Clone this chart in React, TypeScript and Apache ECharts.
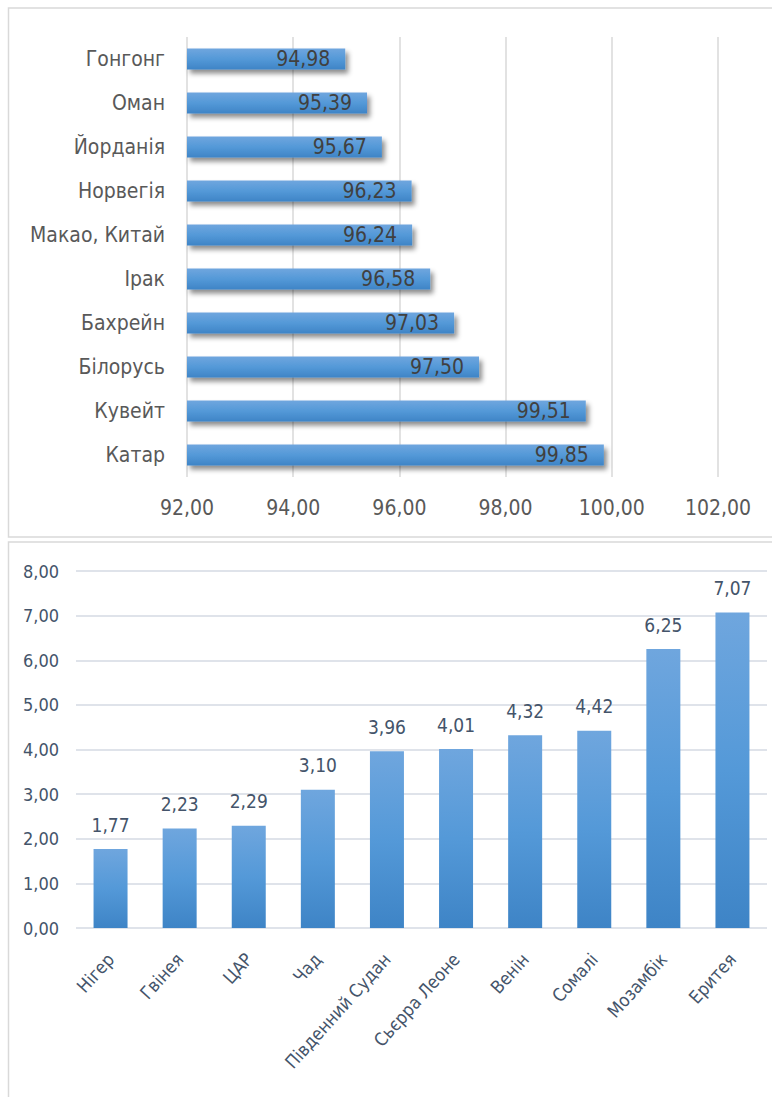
import React, { useEffect, useRef } from "react";
import * as echarts from "echarts";

const topCategories = ["Гонгонг", "Оман", "Йорданія", "Норвегія", "Макао, Китай", "Ірак", "Бахрейн", "Білорусь", "Кувейт", "Катар"];
const topValues = [94.98, 95.39, 95.67, 96.23, 96.24, 96.58, 97.03, 97.5, 99.51, 99.85];

const bottomCategories = ["Нігер", "Гвінея", "ЦАР", "Чад", "Південний Судан", "Сьєрра Леоне", "Венін", "Сомалі", "Мозамбік", "Еритея"];
const bottomValues = [1.77, 2.23, 2.29, 3.1, 3.96, 4.01, 4.32, 4.42, 6.25, 7.07];

const FONT = "'Liberation Sans Narrow', 'DejaVu Sans Condensed', 'Liberation Sans', sans-serif";
const fmt = (v: number) => v.toFixed(2).replace(".", ",");

export default function App() {
  const ref = useRef<HTMLDivElement>(null);
  useEffect(() => {
    const chart = echarts.init(ref.current!, null, { renderer: "svg" });
    const grad = () =>
      new echarts.graphic.LinearGradient(0, 0, 0, 1, [
        { offset: 0, color: "#6fa6de" },
        { offset: 0.5, color: "#5499d8" },
        { offset: 1, color: "#3e84c6" },
      ]);
    chart.setOption({
      animation: false,
      backgroundColor: "#ffffff",
      textStyle: { fontFamily: FONT },
      graphic: [
        { type: "rect", shape: { x: 8.5, y: 8, width: 800, height: 529 }, style: { fill: "none", stroke: "#d9d9d9", lineWidth: 1.5 }, silent: true },
        { type: "rect", shape: { x: 8.5, y: 542, width: 800, height: 600 }, style: { fill: "none", stroke: "#d9d9d9", lineWidth: 1.5 }, silent: true },
      ],
      grid: [
        { left: 187, top: 37, width: 531, height: 440 },
        { left: 76, top: 571, width: 691, height: 357 },
      ],
      xAxis: [
        {
          gridIndex: 0,
          type: "value",
          min: 92,
          max: 102,
          interval: 2,
          axisLine: { show: false },
          axisTick: { show: false },
          splitLine: { lineStyle: { color: "#d9d9d9", width: 1.5 } },
          axisLabel: { formatter: (v: number) => fmt(v), color: "#595959", fontSize: 21, margin: 20, fontFamily: FONT },
        },
        {
          gridIndex: 1,
          type: "category",
          data: bottomCategories,
          axisLine: { show: false },
          axisTick: { show: false },
          axisLabel: { rotate: 48, color: "#44546a", fontSize: 18, margin: 28, interval: 0, fontFamily: FONT },
        },
      ],
      yAxis: [
        {
          gridIndex: 0,
          type: "category",
          data: topCategories,
          inverse: true,
          axisLine: { show: false },
          axisTick: { show: false },
          axisLabel: { color: "#595959", fontSize: 21, margin: 22, fontFamily: FONT },
        },
        {
          gridIndex: 1,
          type: "value",
          min: 0,
          max: 8,
          interval: 1,
          axisLine: { show: false },
          axisTick: { show: false },
          splitLine: { lineStyle: { color: "#dfe3ea", width: 2 } },
          axisLabel: { formatter: (v: number) => fmt(v), color: "#44546a", fontSize: 18, margin: 17, fontFamily: FONT },
        },
      ],
      series: [
        {
          type: "bar",
          xAxisIndex: 0,
          yAxisIndex: 0,
          data: topValues,
          barWidth: 21,
          itemStyle: {
            color: grad(),
            shadowColor: "rgba(0,0,0,0.45)",
            shadowBlur: 5,
            shadowOffsetX: 3,
            shadowOffsetY: 4,
          },
          label: {
            show: true,
            position: "insideRight",
            distance: 15,
            formatter: (p: any) => fmt(p.value),
            color: "#404040",
            fontSize: 21,
            fontFamily: FONT,
          },
        },
        {
          type: "bar",
          xAxisIndex: 1,
          yAxisIndex: 1,
          data: bottomValues,
          barWidth: 34,
          itemStyle: { color: grad() },
          label: {
            show: true,
            position: "top",
            distance: 15,
            formatter: (p: any) => fmt(p.value),
            color: "#44546a",
            fontSize: 19,
            fontFamily: FONT,
          },
        },
      ],
    });
    return () => chart.dispose();
  }, []);
  return <div ref={ref} style={{ position: "absolute", left: 0, top: 0, width: 772, height: 1097 }} />;
}
